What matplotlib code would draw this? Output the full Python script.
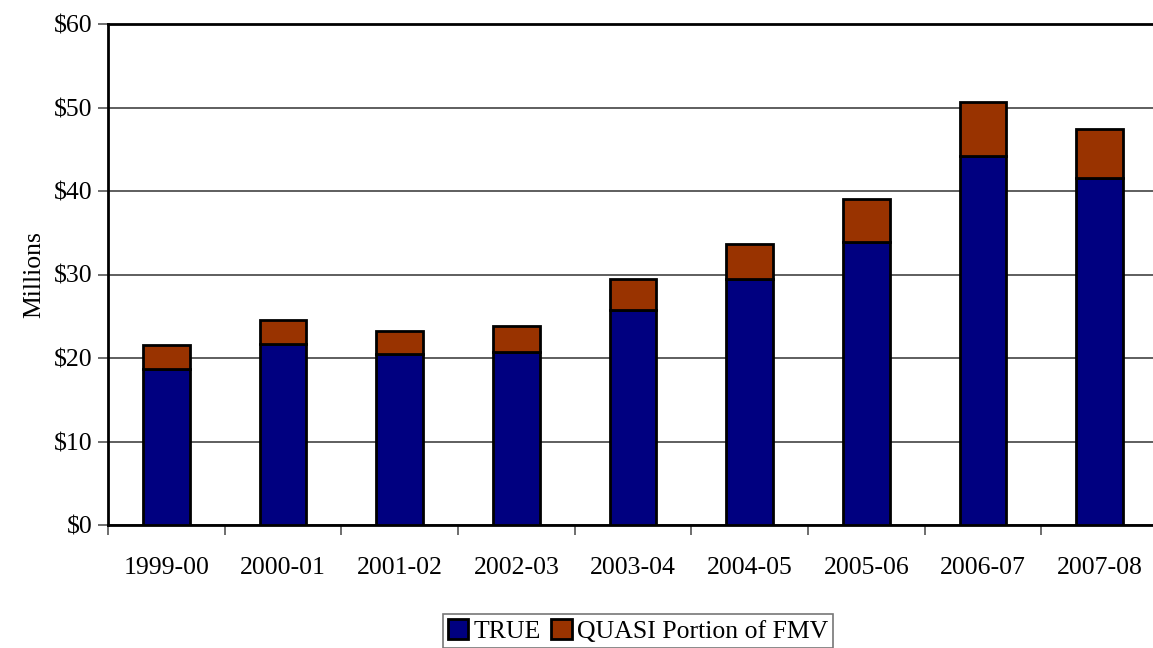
import numpy as np
import matplotlib
matplotlib.use("Agg")
import matplotlib.pyplot as plt
from matplotlib.ticker import FuncFormatter

years = ["1999-00", "2000-01", "2001-02", "2002-03", "2003-04",
         "2004-05", "2005-06", "2006-07", "2007-08"]
true_vals = [18.7, 21.7, 20.5, 20.7, 25.7, 29.5, 33.9, 44.2, 41.5]
quasi_vals = [2.8, 2.8, 2.7, 3.1, 3.8, 4.1, 5.2, 6.5, 5.9]

plt.rcParams['font.family'] = ['Liberation Serif', 'DejaVu Serif']

fig = plt.figure(figsize=(11.53, 6.48), dpi=100)
ax = fig.add_axes([108 / 1153, 123 / 648, 1050 / 1153, 501 / 648])

x = np.arange(len(years))
ax.bar(x, true_vals, width=0.4, color='#000080', edgecolor='black',
       linewidth=2, label='TRUE', zorder=3)
ax.bar(x, quasi_vals, width=0.4, bottom=true_vals, color='#993300',
       edgecolor='black', linewidth=2, label='QUASI Portion of FMV', zorder=3)

ax.set_xlim(-0.5, len(years) - 0.5)
ax.set_ylim(0, 60)
ax.set_yticks(range(0, 61, 10))
ax.yaxis.set_major_formatter(FuncFormatter(lambda v, p: f"${v:.0f}"))
ax.set_xticks(x)
ax.set_xticklabels(years)
ax.set_xticks(np.arange(-0.5, len(years), 1), minor=True)
ax.tick_params(axis='x', which='major', length=0, pad=23, labelsize=18.5)
ax.tick_params(axis='x', which='minor', length=7, width=1.2, color='#555555')
ax.tick_params(axis='y', length=7, width=1.2, color='#555555', labelsize=18.5, pad=4)

ax.grid(axis='y', color='#333333', linewidth=1.1, zorder=0)
ax.spines['right'].set_visible(False)
for s in ['left', 'bottom', 'top']:
    ax.spines[s].set_linewidth(2)
    ax.spines[s].set_color('black')

ax.set_ylabel('Millions', fontsize=18.5, labelpad=6)

leg = fig.legend(loc='lower center', bbox_to_anchor=(638 / 1153, 0), ncol=2,
                 fontsize=18.5, frameon=True, fancybox=False, edgecolor='#555555',
                 handlelength=0.8, handleheight=0.8, handletextpad=0.2,
                 columnspacing=0.4, borderpad=0.2, borderaxespad=0)
leg.get_frame().set_linewidth(1.2)

fig.savefig('out.png', dpi=100)
